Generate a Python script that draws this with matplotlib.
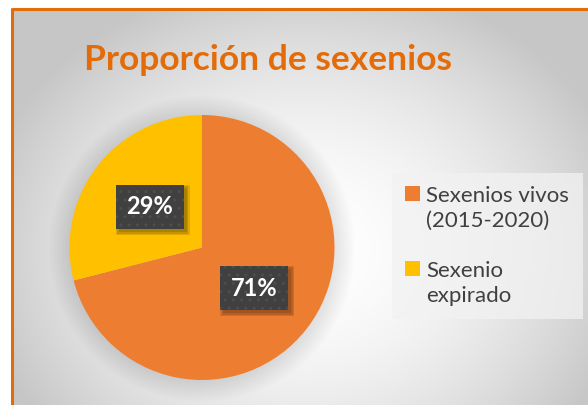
import numpy as np
import matplotlib
matplotlib.use("Agg")
import matplotlib.pyplot as plt
from matplotlib.patches import Circle, Rectangle
from matplotlib.legend_handler import HandlerPatch

# data
labels = ["Sexenios vivos\n(2015-2020)", "Sexenio\nexpirado"]
values = [71, 29]
colors = ["#ED7D31", "#FFC000"]
title = "Proporción de sexenios"

W, H = 588, 405
plt.rcParams['font.family'] = ['Lato', 'DejaVu Sans']

fig = plt.figure(figsize=(W / 100, H / 100), dpi=100)

# background: radial gray gradient with orange frame (top/left edges visible)
bg = fig.add_axes([0, 0, 1, 1])
yy, xx = np.mgrid[0:H, 0:W]
d = np.hypot(xx - 305, (yy - 250) * 1.2) / 330
g = 1 - 0.22 * np.clip(d, 0, 1) ** 1.8
img = np.dstack([g, g, g])
img[:8, :] = 1
img[:, :11] = 1
bg.imshow(img, extent=(0, W, H, 0), aspect='auto', interpolation='bilinear')
bg.plot([11.5, W], [9, 9], color="#E36C09", lw=2.2, solid_capstyle='butt')
bg.plot([12, 12], [8, H], color="#E36C09", lw=2.2, solid_capstyle='butt')
bg.set_xlim(0, W)
bg.set_ylim(H, 0)
bg.axis('off')

# pie axes: centre (202, 247.5) px, radius 132.5 px
cx, cy, r = 202, 247.5, 132.5
lim = 1.3
ax = fig.add_axes([(cx - r * lim) / W, (H - cy - r * lim) / H,
                   2 * r * lim / W, 2 * r * lim / H])

# soft shadow under the pie
for k in range(14):
    ax.add_patch(Circle((0, -0.01), 1.0 + 0.012 * k, color='black',
                        alpha=0.007, lw=0, zorder=0))

wedges, texts, autotexts = ax.pie(values, colors=colors, startangle=90,
                                  counterclock=False, autopct='%1.0f%%',
                                  pctdistance=0.5,
                                  wedgeprops=dict(linewidth=0),
                                  textprops=dict(color='white', fontsize=17,
                                                 fontweight='bold'))
for t in autotexts:
    t.set_bbox(dict(boxstyle='square,pad=0.45', facecolor='#404040',
                    edgecolor='#4e4e4e', hatch='..', linewidth=0))
    t.set_va('center')
    t.set_ha('center')
    t.set_zorder(6)
for w in wedges:
    w.set_zorder(2)

ax.set_xlim(-lim, lim)
ax.set_ylim(-lim, lim)
ax.set_aspect('equal')
ax.axis('off')

fig.text(268.5 / W, 1 - 70 / H, title, ha='center', va='baseline',
         fontsize=25.5, fontweight='bold', color='#E36C09')


# legend squares sit next to the first line of each label
def top_square(legend, orig_handle, xdescent, ydescent, width, height, fontsize):
    return Rectangle((-xdescent, -ydescent + 0.68 * fontsize), width, height)


leg = fig.legend(wedges, labels, loc='upper left',
                 bbox_to_anchor=(392 / W, 1 - 173 / H),
                 fontsize=16, frameon=True, fancybox=False,
                 facecolor='#f2f2f2', edgecolor='none', framealpha=0.75,
                 handlelength=0.65, handleheight=0.65, handletextpad=0.3,
                 labelspacing=1.35, borderpad=0.6, borderaxespad=0,
                 handler_map={w: HandlerPatch(patch_func=top_square)
                              for w in wedges})
for t in leg.get_texts():
    t.set_color('#404040')
    t.set_linespacing(1.3)

# blurred drop shadow behind each label box, offset down-right
fig.canvas.draw()
for t in autotexts:
    bb = t.get_bbox_patch().get_window_extent()
    for grow in [0, 1.5, 3]:
        ax.add_patch(Rectangle((bb.x0 + 3 - grow, bb.y0 - 3 - grow),
                               bb.width + 2 * grow, bb.height + 2 * grow,
                               transform=None, facecolor='black',
                               alpha=0.12, linewidth=0, zorder=5))

fig.savefig("out.png", dpi=100)
